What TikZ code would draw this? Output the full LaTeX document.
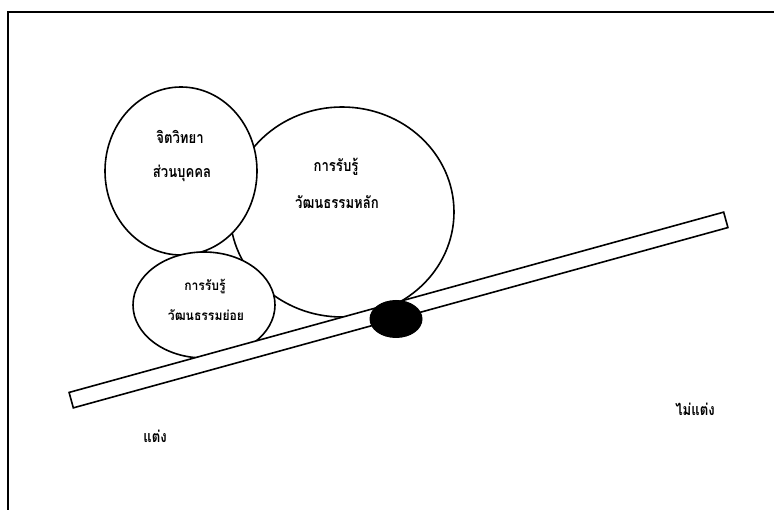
\documentclass[tikz,border=0pt]{standalone}
\usepackage{graphicx}
\usepackage{fontspec}
\newfontfamily\thai[Script=Thai]{Loma}
\newcommand{\cond}[1]{\scalebox{0.82}[1]{#1}}
\usetikzlibrary{shapes.geometric}
\begin{document}
\begin{tikzpicture}[x=1pt,y=-1pt,
  blob/.style={draw, ellipse, fill=white, line width=1.6pt, inner sep=0pt},
  lbl/.style={font=\thai\bfseries\fontsize{16}{18}\selectfont, inner sep=0pt},
  slbl/.style={font=\thai\bfseries\fontsize{13.5}{15}\selectfont, inner sep=0pt}]
\useasboundingbox (0,0) rectangle (774,510);
\draw[line width=2pt] (8,530) -- (8,12) -- (790,12);
\node[blob, minimum width=224pt, minimum height=210pt] (main) at (342,212) {};
\node[blob, minimum width=152pt, minimum height=168pt] (psy) at (181,171) {};
\node[blob, minimum width=142pt, minimum height=106pt] (sub) at (204,305) {};
\node[draw, fill=white, line width=1.6pt, rotate=15.4, minimum width=679pt, minimum height=16pt, inner sep=0pt] (rod) at (398.5,310) {};
\node[ellipse, fill=black, minimum width=53pt, minimum height=38pt, inner sep=0pt] (pivot) at (396,319) {};
\node[lbl] (t1) at (180,137) {\cond{จิตวิทยา}};
\node[lbl] (t2) at (182,173) {\cond{ส่วนบุคคล}};
\node[lbl] (t3) at (336,167) {\cond{การรับรู้}};
\node[lbl] (t4) at (337,202) {\cond{วัฒนธรรมหลัก}};
\node[slbl] (t5) at (205,287) {\scalebox{0.9}[1]{การรับรู้}};
\node[slbl] (t6) at (206,315) {\scalebox{0.9}[1]{วัฒนธรรมย่อย}};
\node[lbl] (l1) at (155,436) {\cond{แต่ง}};
\node[lbl] (l2) at (695,409) {\cond{ไม่แต่ง}};
\end{tikzpicture}
\end{document}
